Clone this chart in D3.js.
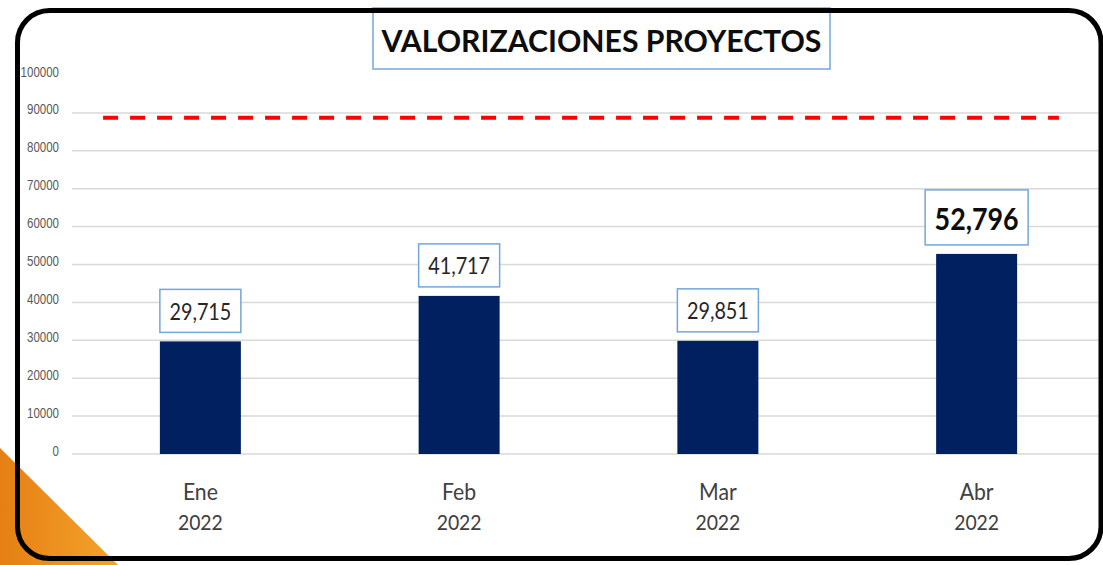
<!DOCTYPE html>
<html>
<head>
<meta charset="utf-8">
<script src="https://cdn.jsdelivr.net/npm/d3@7"></script>
<style>
  html, body { margin: 0; padding: 0; background: #fff; }
  svg { display: block; font-family: Lato, "Open Sans", sans-serif; }
</style>
</head>
<body>
<svg id="chart" width="1103" height="565"></svg>
<script>
// chart data
const months = ["Ene", "Feb", "Mar", "Abr"];
const years = ["2022", "2022", "2022", "2022"];
const values = [29715, 41717, 29851, 52796];
const targetValue = 88700;
const yTicks = [0, 10000, 20000, 30000, 40000, 50000, 60000, 70000, 80000, 90000, 100000];
const highlightMonth = "Abr";
const title = "VALORIZACIONES PROYECTOS";

const CAP = 0.72; // cap height ratio of Lato

const svg = d3.select("#chart");
const width = +svg.attr("width");
const height = +svg.attr("height");

const plot = {left: 71, right: 1106, top: 75, bottom: 454};

const x = d3.scaleBand()
    .domain(months)
    .range([plot.left, plot.right])
    .paddingInner(0.687)
    .paddingOuter(0.3435);

const y = d3.scaleLinear()
    .domain([0, 100000])
    .range([plot.bottom, plot.top]);

// squeeze text horizontally so a sample string gets the width
function condense(sel, sampleWidth, pick) {
    let node = sel.nodes()[0];
    if (pick) node = sel.filter(pick).node();
    const sx = sampleWidth / node.getComputedTextLength();
    sel.each(function () {
        const t = d3.select(this);
        const x0 = +t.attr("x") || 0;
        t.attr("x", x0 / sx).attr("transform", "scale(" + sx + ",1)");
    });
}

// background + orange corner
const defs = svg.append("defs");
const grad = defs.append("linearGradient").attr("id", "orange")
    .attr("x1", "0%").attr("y1", "0%").attr("x2", "100%").attr("y2", "0%");
grad.append("stop").attr("offset", "0%").attr("stop-color", "#e57f14");
grad.append("stop").attr("offset", "100%").attr("stop-color", "#f4a42a");

svg.append("rect").attr("width", width).attr("height", height).attr("fill", "#fff");
svg.append("path")
    .attr("d", "M0,448 L0," + height + " L118," + height + " Z")
    .attr("fill", "url(#orange)");

// gridlines (no line at the top value)
svg.append("g")
    .attr("class", "grid")
    .selectAll("line")
    .data(yTicks.filter(function (d) { return d < 100000; }))
    .enter().append("line")
    .attr("x1", plot.left + 1)
    .attr("x2", width)
    .attr("y1", function (d) { return y(d); })
    .attr("y2", function (d) { return y(d); })
    .attr("stroke", "#d9d9d9")
    .attr("stroke-width", 1.5);

// y axis labels
const yAxis = svg.append("g")
    .attr("transform", "translate(59,0)")
    .call(d3.axisLeft(y).tickValues(yTicks).tickSize(0).tickPadding(0).tickFormat(d3.format("d")));
yAxis.select(".domain").remove();
yAxis.selectAll("text")
    .attr("dy", 3)
    .attr("x", 0)
    .attr("y", -2)
    .attr("fill", "#595959")
    .style("font-size", (10 / CAP) + "px");
condense(yAxis.selectAll("text"), 32, function (d) { return d === 90000; });

// bars
svg.append("g")
    .selectAll("rect")
    .data(values)
    .enter().append("rect")
    .attr("x", function (d, i) { return x(months[i]); })
    .attr("y", function (d) { return y(d); })
    .attr("width", x.bandwidth())
    .attr("height", function (d) { return y(0) - y(d); })
    .attr("fill", "#002060");

// target dashed line
const step = x.step();
svg.append("line")
    .attr("x1", plot.left + step * 0.124)
    .attr("x2", plot.right - step * 0.182)
    .attr("y1", y(targetValue))
    .attr("y2", y(targetValue))
    .attr("stroke", "#ff0000")
    .attr("stroke-width", 4)
    .attr("stroke-dasharray", "15,12");

// value label boxes
const fmt = d3.format(",");
const labels = svg.append("g").selectAll("g")
    .data(values)
    .enter().append("g")
    .attr("transform", function (d, i) {
        const big = months[i] === highlightMonth;
        const h = big ? 55 : 43;
        const cy = y(d) - 9 - h / 2;
        return "translate(" + (x(months[i]) + x.bandwidth() / 2) + "," + cy + ")";
    });

labels.append("rect")
    .attr("x", function (d, i) { return months[i] === highlightMonth ? -51.5 : -x.bandwidth() / 2; })
    .attr("y", function (d, i) { return months[i] === highlightMonth ? -27.5 : -21.5; })
    .attr("width", function (d, i) { return months[i] === highlightMonth ? 103 : x.bandwidth(); })
    .attr("height", function (d, i) { return months[i] === highlightMonth ? 55 : 43; })
    .attr("fill", "#fff")
    .attr("stroke", "#72a7dc")
    .attr("stroke-width", 1.5);

const normalText = labels.filter(function (d, i) { return months[i] !== highlightMonth; })
    .append("g").attr("transform", "translate(0,9)")
    .append("text")
    .attr("text-anchor", "middle")
    .attr("fill", "#262626")
    .style("font-size", (16 / CAP) + "px")
    .text(function (d) { return fmt(d); });
condense(normalText, 62);

const bigText = labels.filter(function (d, i) { return months[i] === highlightMonth; })
    .append("g").attr("transform", "translate(0,12.5)")
    .append("text")
    .attr("text-anchor", "middle")
    .attr("fill", "#0d0d0d")
    .style("font-weight", "bold")
    .style("font-size", (22 / CAP) + "px")
    .text(function (d) { return fmt(d); });
condense(bigText, 84);

// category labels
const cats = svg.append("g").selectAll("g")
    .data(months)
    .enter().append("g")
    .attr("transform", function (d) { return "translate(" + (x(d) + x.bandwidth() / 2) + "," + y(0) + ")"; });

const monthText = cats.append("g").attr("transform", "translate(0,46)")
    .append("text")
    .attr("text-anchor", "middle")
    .attr("fill", "#404040")
    .style("font-size", (17 / CAP) + "px")
    .text(function (d) { return d; });
condense(monthText, 35);

const yearText = cats.append("g").attr("transform", "translate(0,76)")
    .append("text")
    .attr("text-anchor", "middle")
    .attr("fill", "#404040")
    .style("font-size", (15 / CAP) + "px")
    .text(function (d, i) { return years[i]; });
condense(yearText, 45);

// title box
svg.append("rect")
    .attr("x", 373).attr("y", 8)
    .attr("width", 457).attr("height", 61)
    .attr("fill", "#fff")
    .attr("stroke", "#72a7dc")
    .attr("stroke-width", 1.5);
const titleText = svg.append("g").attr("transform", "translate(601.5,52)")
    .append("text")
    .attr("text-anchor", "middle")
    .attr("fill", "#0d0d0d")
    .style("font-weight", "bold")
    .style("font-size", (22 / CAP) + "px")
    .text(title);
condense(titleText, 440);

// frame
svg.append("rect")
    .attr("x", 17.5).attr("y", 10.5)
    .attr("width", 1083.5).attr("height", 548)
    .attr("rx", 32).attr("ry", 32)
    .attr("fill", "none")
    .attr("stroke", "#000")
    .attr("stroke-width", 5);
</script>
</body>
</html>
